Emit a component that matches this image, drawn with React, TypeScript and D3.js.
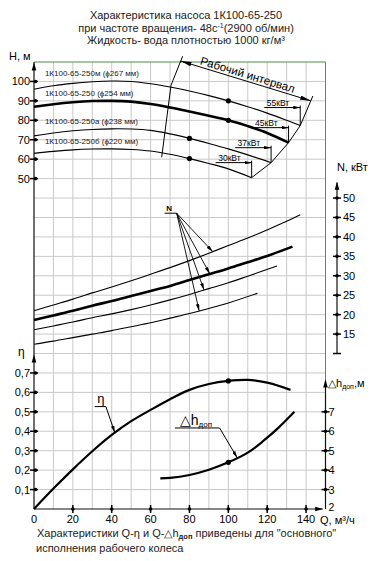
import React from 'react';
import * as d3 from 'd3';

type Pt = [number, number];

// Q, m3/h  ->  H, m  for the four impeller diameters
const impellerLabels = [
  '1К100-65-250м (ϕ267 мм)',
  '1К100-65-250 (ϕ254 мм)',
  '1К100-65-250а (ϕ238 мм)',
  '1К100-65-250б (ϕ220 мм)',
];
const powerLabels = ['55кВт', '45кВт', '37кВт', '30кВт'];

const headCurves: Pt[][] = [
  [[0, 96], [10, 97.8], [20, 99], [30, 99.8], [40, 100.2], [50, 100], [60, 98.8], [70, 97.1], [80, 95.1], [90, 92.7], [100, 90], [110, 87], [120, 83.7], [130, 80], [137, 77.3]],
  [[0, 87], [10, 88.3], [20, 89.3], [30, 89.9], [40, 90], [50, 89.6], [60, 88.4], [70, 86.6], [80, 84.5], [90, 82.3], [100, 80], [110, 77], [120, 73.5], [131, 68.5]],
  [[0, 72], [10, 73.5], [20, 74.6], [30, 75.3], [40, 75.6], [50, 75.5], [60, 74.8], [70, 73], [80, 70.7], [90, 68.1], [100, 65.3], [110, 62.2], [122, 58.2]],
  [[0, 63], [10, 64], [20, 64.8], [30, 65.2], [40, 65.3], [50, 65], [60, 64.2], [70, 62.5], [80, 60.3], [90, 57.8], [100, 55], [112, 50.5]],
];
const headDotQ = [100, 100, 80, 80];

// Q -> N, kW
const powerCurves: Pt[][] = [
  [[0, 21], [10, 22.5], [20, 24], [30, 25.6], [40, 27.1], [50, 28.7], [60, 30.4], [70, 32.1], [80, 33.9], [90, 35.8], [100, 37.8], [110, 39.7], [120, 41.8], [130, 44], [137, 45.7]],
  [[0, 18.6], [10, 19.8], [20, 21], [30, 22.3], [40, 23.5], [50, 24.8], [60, 26.1], [70, 27.4], [80, 28.9], [90, 30.4], [100, 31.9], [110, 33.5], [120, 35.1], [133, 37.5]],
  [[0, 16.1], [10, 17.1], [20, 18.1], [30, 19.2], [40, 20.2], [50, 21.3], [60, 22.5], [70, 23.8], [80, 25.2], [90, 26.7], [100, 28.2], [110, 29.9], [125, 32.5]],
  [[0, 12.4], [10, 13.2], [20, 14.1], [30, 15], [40, 15.9], [50, 16.9], [60, 17.9], [70, 19.1], [80, 20.3], [90, 21.6], [100, 23], [115, 25.5]],
];
const powerPointerQ = [92, 90.5, 87.5, 85];

// Q -> efficiency and Q -> NPSH (Δh доп)
const etaCurve: Pt[] = [[0, 0], [10, 0.105], [20, 0.204], [30, 0.297], [40, 0.381], [50, 0.452], [60, 0.51], [70, 0.565], [80, 0.613], [90, 0.643], [100, 0.659], [110, 0.664], [120, 0.65], [132, 0.613]];
const npshCurve: Pt[] = [[65, 3.58], [70, 3.6], [80, 3.75], [90, 4.02], [100, 4.4], [110, 4.9], [118, 5.5], [126, 6.2], [134, 7]];

// working interval (left edge, dimension arrow)
const leftEdge: Pt[] = [[76.5, 113], [70.5, 98], [65.7, 61]];
const intervalArrow: Pt[] = [[75.5, 110.5], [142.5, 90]];
const rightEdgeTop: Pt = [143.5, 92.5];

const qTicks = [0, 20, 40, 60, 80, 100, 120, 140];
const hTicks = [50, 60, 70, 80, 90, 100];
const nTicks = [15, 20, 25, 30, 35, 40, 45, 50];
const etaTicks = [0.1, 0.2, 0.3, 0.4, 0.5, 0.6, 0.7];
const dhTicks = [2, 3, 4, 5, 6, 7];

const FONT = "'Liberation Sans', Arial, sans-serif";

function valueAt(pts: Pt[], q: number) {
  for (let i = 0; i < pts.length - 1; i++) {
    const [q0, v0] = pts[i], [q1, v1] = pts[i + 1];
    if (q >= q0 && q <= q1) return v0 + ((v1 - v0) * (q - q0)) / (q1 - q0);
  }
  return pts[pts.length - 1][1];
}

export default function App() {
  const x = d3.scaleLinear().domain([0, 150]).range([34, 325.5]);
  const cell = d3.scaleLinear().domain([0, 23]).range([509, 62]);
  const yH = d3.scaleLinear().domain([50, 110]).range([cell(17), cell(23)]);
  const yN = d3.scaleLinear().domain([15, 50]).range([cell(9), cell(16)]);
  const yEta = d3.scaleLinear().domain([0, 0.7]).range([cell(0), cell(7)]);
  const yDh = d3.scaleLinear().domain([2, 7]).range([cell(0), cell(5)]);

  const curve = d3.curveCatmullRom.alpha(0.5);
  const lineH = d3.line<Pt>().x(d => x(d[0])).y(d => yH(d[1])).curve(curve);
  const lineN = d3.line<Pt>().x(d => x(d[0])).y(d => yN(d[1])).curve(curve);
  const lineEta = d3.line<Pt>().x(d => x(d[0])).y(d => yEta(d[1])).curve(curve);
  const lineDh = d3.line<Pt>().x(d => x(d[0])).y(d => yDh(d[1])).curve(curve);
  const straightH = d3.line<Pt>().x(d => x(d[0])).y(d => yH(d[1]));

  const left = x(0), right = x(150), top = cell(23), bottom = cell(0);
  const nAxisX = right + 11.5;

  const ends = headCurves.map(c => c[c.length - 1]);
  const rightEdge: Pt[] = [rightEdgeTop, ...ends];

  const [a0, a1] = intervalArrow.map(p => [x(p[0]), yH(p[1])]);
  const ang = Math.atan2(a1[1] - a0[1], a1[0] - a0[0]);
  const mx = (a0[0] + a1[0]) / 2 + Math.sin(ang) * 2.5;
  const my = (a0[1] + a1[1]) / 2 - Math.cos(ang) * 2.5;

  // pointer origins
  const nOrigin: Pt = [x(73.4), yN(46.1)];
  const etaLabel: Pt = [x(32.5), yEta(0.545)];
  const etaLine: Pt[] = [[x(31.2), yEta(0.527)], [x(37), yEta(0.527)], [x(41.6), yEta(valueAt(etaCurve, 41.6))]];
  const dhLabel: Pt = [x(75), yDh(6.33)];
  const dhLine: Pt[] = [[x(72.5), yDh(6.17)], [x(95.5), yDh(6.17)], [x(104.6), yDh(valueAt(npshCurve, 104.6))]];

  const tri = (tx: number, ty: number, dir: 'up' | 'right', len = 8, w = 2.3) =>
    dir === 'up'
      ? `M${tx},${ty}L${tx - w},${ty + len}L${tx + w},${ty + len}Z`
      : `M${tx},${ty}L${tx - len},${ty - w}L${tx - len},${ty + w}Z`;

  return (
    <div style={{ position: 'absolute', left: 0, top: 0 }}>
      <svg width={372} height={561} fontFamily={FONT} style={{ display: 'block', background: '#fff' }}>
        <defs>
          <marker id="big" viewBox="0 0 12 5" refX="12" refY="2.5" markerWidth="11" markerHeight="4.5" orient="auto-start-reverse" markerUnits="userSpaceOnUse">
            <path d="M0,0L12,2.5L0,5Z" fill="#000" />
          </marker>
          <marker id="small" viewBox="0 0 8 4" refX="8" refY="2" markerWidth="7" markerHeight="3.5" orient="auto" markerUnits="userSpaceOnUse">
            <path d="M0,0L8,2L0,4Z" fill="#000" />
          </marker>
        </defs>

        {/* title */}
        <g fontSize={11} textAnchor="middle" fill="#222">
          <text x={186} y={19}>Характеристика насоса 1К100-65-250</text>
          <text x={186} y={31.5}>
            при частоте вращения- 48с<tspan fontSize={7} dy={-4}>-1</tspan>
            <tspan dy={4}>(2900 об/мин)</tspan>
          </text>
          <text x={186} y={44}>Жидкость- вода плотностью 1000 кг/м³</text>
        </g>

        {/* grid */}
        <g stroke="#c9c9c9" strokeWidth={1}>
          {d3.range(10, 150, 10).map(q => (
            <line key={'v' + q} x1={x(q)} x2={x(q)} y1={top} y2={bottom} />
          ))}
          {d3.range(1, 23).map(c => (
            <line key={'h' + c} x1={left} x2={right} y1={cell(c)} y2={cell(c)} />
          ))}
        </g>
        <line x1={left} x2={right} y1={top} y2={top} stroke="#4c8c4c" strokeWidth={1.2} />
        <line x1={right} x2={right} y1={top} y2={bottom} stroke="#777" strokeWidth={1} />

        {/* left axis (H and η) */}
        <line x1={left} x2={left} y1={top} y2={bottom} stroke="#111" strokeWidth={1.2} />
        <path d={tri(left, top + 0.5, 'up')} fill="#000" />
        <path d={tri(left, yEta(0.795), 'up')} fill="#000" />
        <text x={9} y={60} fontSize={11}>H, м</text>
        <text x={18} y={356} fontSize={12}>η</text>
        {hTicks.map(v => (
          <g key={'ht' + v}>
            <line x1={left - 4} x2={left + 4} y1={yH(v)} y2={yH(v)} stroke="#000" strokeWidth={1.5} />
            <circle cx={left + 1.5} cy={yH(v)} r={1.8} fill="#000" />
            <text x={30} y={yH(v) + 4} fontSize={11} textAnchor="end">{v}</text>
          </g>
        ))}
        {etaTicks.map(v => (
          <g key={'et' + v}>
            <line x1={left - 4} x2={left + 4} y1={yEta(v)} y2={yEta(v)} stroke="#000" strokeWidth={1.5} />
            <circle cx={left + 1.5} cy={yEta(v)} r={1.8} fill="#000" />
            <text x={30} y={yEta(v) + 4} fontSize={11} textAnchor="end">{String(v).replace('.', ',')}</text>
          </g>
        ))}

        {/* bottom axis */}
        <line x1={left} x2={x(148.5)} y1={bottom} y2={bottom} stroke="#111" strokeWidth={1.2} />
        <path d={tri(x(148.8), bottom, 'right')} fill="#000" />
        {qTicks.map(q => (
          <g key={'qt' + q}>
            {q > 0 && <line x1={x(q)} x2={x(q)} y1={bottom - 4} y2={bottom + 4} stroke="#000" strokeWidth={1.5} />}
            {q > 0 && <circle cx={x(q)} cy={bottom} r={1.8} fill="#000" />}
            <text x={x(q)} y={523} fontSize={11} textAnchor="middle">{q}</text>
          </g>
        ))}
        <text x={320} y={523.5} fontSize={11}>Q, м³/ч</text>

        {/* N axis */}
        <line x1={nAxisX} x2={nAxisX} y1={yN(54)} y2={cell(8)} stroke="#111" strokeWidth={1.2} />
        <path d={tri(nAxisX, yN(54.2), 'up')} fill="#000" />
        <line x1={nAxisX - 4} x2={nAxisX + 4} y1={cell(8)} y2={cell(8)} stroke="#000" strokeWidth={1.5} />
        <text x={337} y={171} fontSize={11}>N, кВт</text>
        {nTicks.map(v => (
          <g key={'nt' + v}>
            <line x1={nAxisX - 4} x2={nAxisX + 4} y1={yN(v)} y2={yN(v)} stroke="#000" strokeWidth={1.5} />
            <circle cx={nAxisX} cy={yN(v)} r={1.8} fill="#000" />
            <text x={nAxisX + 6} y={yN(v) + 4} fontSize={11}>{v}</text>
          </g>
        ))}

        {/* Δh axis */}
        <line x1={right} x2={right} y1={yDh(8.6)} y2={bottom} stroke="#111" strokeWidth={1.2} />
        <path d={tri(right, yDh(8.66), 'up')} fill="#000" />
        <text x={328} y={387} fontSize={11}>
          △h<tspan fontSize={7} dy={2}>доп</tspan>
          <tspan dy={-2}>,м</tspan>
        </text>
        {dhTicks.map(v => (
          <g key={'dt' + v}>
            {v > 2 && <line x1={right - 4} x2={right + 4} y1={yDh(v)} y2={yDh(v)} stroke="#000" strokeWidth={1.5} />}
            {v > 2 && <circle cx={right} cy={yDh(v)} r={1.8} fill="#000" />}
            <text x={328.5} y={yDh(v) + (v === 2 ? 2 : 4)} fontSize={v === 2 ? 10.5 : 11}>{v}</text>
          </g>
        ))}

        {/* H-Q curves */}
        {headCurves.map((c, i) => (
          <path key={'hc' + i} d={lineH(c) || ''} fill="none" stroke="#000" strokeWidth={i === 1 ? 2.6 : 1.1} />
        ))}
        {headCurves.map((c, i) => (
          <circle key={'hd' + i} cx={x(headDotQ[i])} cy={yH(valueAt(c, headDotQ[i]))} r={2.6} fill="#000" />
        ))}
        {headCurves.map((c, i) => (
          <text key={'hl' + i} x={x(5.6)} y={yH(valueAt(c, 40)) - 5} fontSize={8} fill="#222">{impellerLabels[i]}</text>
        ))}

        {/* working interval */}
        <path d={straightH(leftEdge) || ''} fill="none" stroke="#000" strokeWidth={1} />
        <path d={straightH(rightEdge) || ''} fill="none" stroke="#000" strokeWidth={1} />
        <line x1={a0[0]} y1={a0[1]} x2={a1[0]} y2={a1[1]} stroke="#000" strokeWidth={1} markerStart="url(#big)" markerEnd="url(#big)" />
        <text x={mx} y={my} fontSize={11.5} textAnchor="middle" transform={`rotate(${(ang * 180) / Math.PI},${mx},${my})`}>Рабочий интервал</text>
        {ends.map((e, i) => {
          const tx = x(e[0]);
          const yb = yH(e[1]);
          const yt = yb - (i === 0 ? 20 : 17);
          return (
            <g key={'kw' + i}>
              <line x1={tx} x2={tx} y1={yt} y2={yb} stroke="#000" strokeWidth={1} />
              <text x={tx - 11} y={yt + 0.5} fontSize={8.5} textAnchor="end">{powerLabels[i]}</text>
              <line x1={tx - 36} x2={tx} y1={yt + 2} y2={yt + 2} stroke="#000" strokeWidth={1} markerEnd="url(#small)" />
            </g>
          );
        })}

        {/* N-Q curves */}
        {powerCurves.map((c, i) => (
          <path key={'nc' + i} d={lineN(c) || ''} fill="none" stroke="#000" strokeWidth={i === 1 ? 2.6 : 1.1} />
        ))}
        <text x={x(69.5)} y={yN(46.6)} fontSize={8} fontWeight="bold" textAnchor="middle">N</text>
        <line x1={x(67.2)} x2={nOrigin[0]} y1={nOrigin[1]} y2={nOrigin[1]} stroke="#000" strokeWidth={1} />
        {powerCurves.map((c, i) => (
          <line key={'np' + i} x1={nOrigin[0]} y1={nOrigin[1]} x2={x(powerPointerQ[i])} y2={yN(valueAt(c, powerPointerQ[i]))} stroke="#000" strokeWidth={0.9} markerEnd="url(#small)" />
        ))}

        {/* η-Q and Δh-Q */}
        <path d={lineEta(etaCurve) || ''} fill="none" stroke="#000" strokeWidth={2.2} />
        <circle cx={x(100)} cy={yEta(valueAt(etaCurve, 100))} r={2.6} fill="#000" />
        <path d={lineDh(npshCurve) || ''} fill="none" stroke="#000" strokeWidth={2.2} />
        <circle cx={x(100)} cy={yDh(valueAt(npshCurve, 100))} r={2.6} fill="#000" />

        <text x={etaLabel[0]} y={etaLabel[1]} fontSize={13}>η</text>
        <polyline points={etaLine.map(p => p.join(',')).join(' ')} fill="none" stroke="#000" strokeWidth={1} markerEnd="url(#small)" />
        <text x={dhLabel[0]} y={dhLabel[1]} fontSize={14}>
          △h<tspan fontSize={8} dy={2}>доп</tspan>
        </text>
        <polyline points={dhLine.map(p => p.join(',')).join(' ')} fill="none" stroke="#000" strokeWidth={1} markerEnd="url(#small)" />

        {/* caption */}
        <g fontSize={11} fill="#222">
          <text x={37} y={537}>
            Характеристики Q-η и Q-△h<tspan fontSize={7.5} fontWeight="bold" dy={2}>доп</tspan>
            <tspan dy={-2}> приведены для "основного"</tspan>
          </text>
          <text x={36} y={552}>исполнения рабочего колеса</text>
        </g>
      </svg>
    </div>
  );
}
